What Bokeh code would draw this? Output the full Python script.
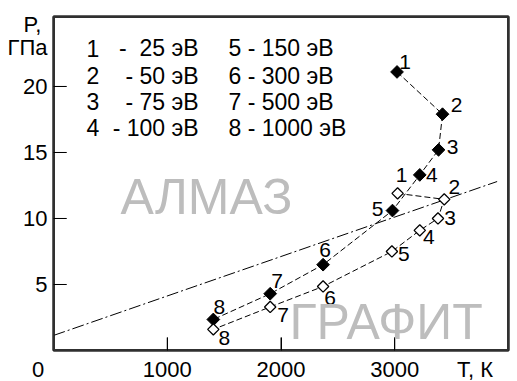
from bokeh.plotting import figure
from bokeh.models import FixedTicker, LinearAxis, ColumnDataSource
from bokeh.core.properties import value
from bokeh.embed import file_html
from bokeh.resources import INLINE

# ---- data ----
T_filled = [3020, 3420, 3385, 3220, 2980, 2370, 1905, 1405]
P_filled = [21.1, 17.9, 15.2, 13.3, 10.6, 6.5, 4.3, 2.35]
T_open = [3025, 3435, 3380, 3220, 2975, 2370, 1905, 1405]
P_open = [11.9, 11.45, 10.0, 9.1, 7.5, 4.85, 3.3, 1.6]
point_ids = ["1", "2", "3", "4", "5", "6", "7", "8"]
energies = ["25", "50", "75", "100", "150", "300", "500", "1000"]
T_equil = [0, 3900]
P_equil = [1.14, 12.8]
x_ticks = [0, 1000, 2000, 3000, 4000]
y_ticks = [5, 10, 15, 20]
T_lim = (0, 4000)
P_lim = (0, 25.3)

# ---- styles / positions ----
FONT = "Liberation Sans"
NB = "\u00a0"
filled_dx = [8, 14, 14, 12, -15, 2, 7, 6]
filled_dy = [-10, -9, -3, 0, -2, -15, -13, -12]
open_dx = [4, 10, 12, 9, 12, 7, 13, 11]
open_dy = [-18, -12, 0, 7, 3, 12, 8, 9]

p = figure(width=517, height=381, frame_width=455, frame_height=334,
           x_range=T_lim, y_range=P_lim,
           output_backend="svg", toolbar_location=None,
           min_border_left=53, min_border_right=9, min_border_top=16, min_border_bottom=31)
p.grid.visible = False
p.outline_line_color = "#303030"
p.outline_line_width = 2

for ax, ticks in ((p.xaxis[0], x_ticks), (p.yaxis[0], y_ticks)):
    ax.ticker = FixedTicker(ticks=ticks)
    ax.major_tick_in = 13
    ax.major_tick_out = 0
    ax.minor_tick_line_color = None
    ax.major_tick_line_color = "black"
    ax.major_tick_line_width = 1
    ax.axis_line_color = "#303030"
    ax.axis_line_width = 2
    ax.major_label_text_font = FONT
    ax.major_label_text_font_size = "22px"
    ax.major_label_text_color = "black"
p.xaxis.major_label_standoff = 6
p.yaxis.major_label_standoff = 6
# origin label and axis unit at the ends of the T axis
p.xaxis[0].major_label_overrides = {0: "0" + NB * 5, 4000: "T, К" + NB * 4}

# unit label for P, set as an extra label-only axis on the left
py = LinearAxis(ticker=FixedTicker(ticks=[22.95, 24.7]),
                major_label_overrides={22.95: "ГПа", 24.7: "P," + NB},
                axis_line_color=None, major_tick_line_color=None, minor_tick_line_color=None,
                major_tick_in=0, major_tick_out=0, major_label_standoff=-27,
                major_label_text_font=FONT, major_label_text_font_size="22px",
                major_label_text_color="black")
p.add_layout(py, "left")

# plain axes on top and right to close the frame box
for side in ("above", "right"):
    box_ax = LinearAxis(ticker=FixedTicker(ticks=[]), axis_line_color="#303030",
                        axis_line_width=2, major_tick_line_color=None,
                        minor_tick_line_color=None, major_label_text_font_size="0px",
                        major_label_standoff=0)
    p.add_layout(box_ax, side)

# frame box drawn as a glyph too (so it is always visible)
p.quad(left=[T_lim[0]], right=[T_lim[1]], bottom=[P_lim[0]], top=[P_lim[1]],
       fill_color=None, line_color="#303030", line_width=3)
# inward tick marks (13 px long) mirrored as glyphs
tick_len_T = 13 * (T_lim[1] - T_lim[0]) / 455
tick_len_P = 13 * (P_lim[1] - P_lim[0]) / 334
inner_x = x_ticks[1:-1]
p.segment(x0=inner_x, y0=[P_lim[0]] * len(inner_x), x1=inner_x,
          y1=[P_lim[0] + tick_len_P] * len(inner_x), line_color="black", line_width=1)
p.segment(x0=[T_lim[0]] * len(y_ticks), y0=y_ticks, x1=[T_lim[0] + tick_len_T] * len(y_ticks),
          y1=y_ticks, line_color="black", line_width=1)

# equilibrium line (dash-dot)
p.line(T_equil, P_equil, line_color="black", line_width=1, line_dash="12 3 2 3")

# series curves
p.line(T_filled, P_filled, line_color="black", line_width=1, line_dash="6 3")
p.line(T_open, P_open, line_color="black", line_width=1, line_dash="6 3")

# markers
p.scatter(T_filled, P_filled, marker="square", angle=0.785398, size=9,
          fill_color="black", line_color="black", line_width=1)
p.scatter(T_open, P_open, marker="square", angle=0.785398, size=8,
          fill_color="white", line_color="black", line_width=1.3)

texts = []
# point labels
src_f = ColumnDataSource(dict(x=T_filled, y=P_filled, t=point_ids, dx=filled_dx, dy=filled_dy))
src_o = ColumnDataSource(dict(x=T_open, y=P_open, t=point_ids, dx=open_dx, dy=open_dy))
for src in (src_f, src_o):
    texts.append(p.text(x="x", y="y", text="t", x_offset="dx", y_offset="dy", source=src,
                        text_font=value(FONT), text_font_size="21px", text_align="center",
                        text_baseline="middle", text_color="black"))

# phase names
texts.append(p.text(x=[589], y=[11.59], text=["АЛМАЗ"], text_font=value(FONT),
                    text_font_size="50px", text_color="#bdbdbd", text_align="left",
                    text_baseline="middle"))
texts.append(p.text(x=[2075], y=[2.16], text=["ГРАФИТ"], text_font=value(FONT),
                    text_font_size="50px", text_color="#bdbdbd", text_align="left",
                    text_baseline="middle"))

# legend text block
rows_P = [22.88, 20.83, 18.86, 16.89]
dash_texts = ["-" + NB + NB, "- ", "- ", "- "]
for i in range(4):
    texts.append(p.text(x=[290], y=[rows_P[i]], text=[point_ids[i]], text_font=value(FONT),
                        text_font_size="23px", text_align="left", text_baseline="middle"))
    texts.append(p.text(x=[1275], y=[rows_P[i]], text=[dash_texts[i] + energies[i] + " эВ"],
                        text_font=value(FONT), text_font_size="23px", text_align="right",
                        text_baseline="middle"))
    texts.append(p.text(x=[1538], y=[rows_P[i]],
                        text=[point_ids[i + 4] + " - " + energies[i + 4] + " эВ"],
                        text_font=value(FONT), text_font_size="23px", text_align="left",
                        text_baseline="middle"))
for r in texts:
    r.level = "overlay"

open("out.html", "w").write(file_html(p, INLINE))
